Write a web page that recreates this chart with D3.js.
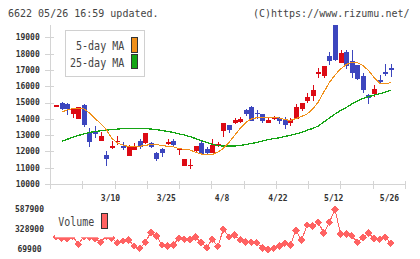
<!DOCTYPE html>
<html><head><meta charset="utf-8">
<script src="https://cdn.jsdelivr.net/npm/d3@7"></script>
<style>html,body{margin:0;padding:0;background:#fff;}svg{display:block;}</style>
</head><body>
<svg id="c" width="420" height="259"></svg>
<script>
// ---- data ----
const title = "6622 05/26 16:59 updated.";
const credit = "(C)https://www.rizumu.net/";
const priceTicks = [10000,11000,12000,13000,14000,15000,16000,17000,18000,19000];
const volTicks = [69900,328900,587900];
const dateLabels = ["3/10","3/25","4/8","4/22","5/12","5/26"];
const dateIdx = [10,20,30,40,50,60];
const open  = [14830,14970,14910,14290,13970,14850,13190,13250,12640,11780,12230,12580,12330,11740,12090,12640,12520,12520,11900,12150,12450,12640,12090,11100,11100,12030,12520,12150,11900,12390,13250,13620,13740,13800,14540,14720,14360,14290,13740,13990,14050,13930,13740,13990,14600,15090,15400,16750,16630,17850,19750,17420,18100,17550,17300,16630,15460,15520,16380,16870,17120];
const close = [14830,14600,14600,14600,14710,13620,12580,13070,12950,11530,12330,12640,12210,12330,12330,12270,13130,12270,11530,11900,12580,12390,12150,11530,11170,12330,11840,11900,12390,12450,13740,13310,13930,13990,14290,13870,14290,13870,13930,14110,13870,13620,13930,14720,14970,15340,15770,16870,17240,17550,17610,18040,17240,16810,16440,15770,15280,15830,16260,16750,16990];
const high  = [14830,15050,14970,14620,14730,14910,13440,13560,13190,12030,12640,12950,12580,12390,12520,12760,13130,12580,11960,12210,12760,12760,12210,11530,11530,12330,12700,12270,12760,12580,13740,13620,14050,14110,14600,14790,14540,14290,14050,14170,14110,14110,14050,14910,14970,15580,16070,17120,17240,18100,19750,18220,18220,18220,17300,16810,15520,16070,16690,17360,17360];
const low   = [14830,14540,14250,14070,13970,13500,12270,12840,12640,11120,12150,12390,12090,11740,12090,12150,12450,12210,11410,11660,12390,12330,11780,11100,10920,11900,11840,11840,11900,12270,12880,13130,13680,13740,14170,13870,13990,13740,13740,13930,13680,13370,13560,13990,14480,14970,15090,16500,16500,17300,17550,17420,17060,16500,16380,15580,14910,15340,16140,16630,16570];
const ma5 = [null,14399,14540,14632,14644,14614,14356,14018,13712,13344,12804,12515,12393,12301,12301,12319,12362,12436,12423,12350,12319,12288,12178,12123,12086,11945,11841,11791,11810,11963,12190,12546,12975,13405,13773,13988,14068,14092,14092,14092,14049,13957,13896,14018,14141,14295,14601,15031,15644,16227,16687,17055,17331,17473,17442,17270,16963,16534,16196,16135,16227];
const ma25 = [null,12626,12742,12859,12975,13080,13160,13221,13264,13307,13337,13368,13399,13417,13417,13417,13405,13374,13337,13282,13227,13160,13080,13006,12908,12791,12669,12546,12442,12356,12331,12331,12331,12362,12423,12485,12552,12638,12718,12785,12834,12914,12988,13068,13166,13301,13405,13558,13804,14049,14295,14509,14693,14908,15092,15245,15356,15448,15540,15632,15749];
const volume = [230000,213600,209800,240000,134600,235000,225000,213600,160500,240000,213600,155400,177400,190300,112600,82900,160500,290000,242100,125600,112600,125600,212400,199400,199400,225300,160500,90600,199400,108750,328900,229200,251200,190300,164400,160500,151500,90600,69900,82900,112600,147600,125600,316000,186400,384600,371600,419500,281000,419500,587900,268000,268000,246000,160500,225300,277100,212400,199400,225300,147600];

// ---- scales ----
const svg = d3.select("#c");
const x = d3.scaleLinear().domain([0, 60]).range([56, 390.8]);
const y = d3.scaleLinear().domain([10000, 19000]).range([184, 37.3]);
const yv = d3.scaleLinear().domain([69900, 587900]).range([249.3, 209.3]);
const grid = d3.scaleLinear().domain([0, 11]).range([50, 405]);

const UP = "#dc0a14", DOWN = "#3c46be";
const mono = "DejaVu Sans Mono";

// title
svg.append("text").attr("x", 8).attr("y", 16.5).attr("font-family", mono).attr("font-size", 10)
  .attr("fill", "#444").text(title);
svg.append("text").attr("x", 409.5).attr("y", 16.5).attr("text-anchor", "end").attr("font-family", mono).attr("font-size", 10)
  .attr("fill", "#444").text(credit);

// axes
const ax = svg.append("g").attr("shape-rendering", "crispEdges").attr("stroke", "#d4d4d4").attr("stroke-width", 1);
ax.append("line").attr("x1", 50.5).attr("x2", 50.5).attr("y1", 25).attr("y2", 189);
ax.append("line").attr("x1", 50).attr("x2", 405).attr("y1", 184.5).attr("y2", 184.5);
ax.selectAll(".yt").data(priceTicks).join("line")
  .attr("x1", 45).attr("x2", 54).attr("y1", d => Math.round(y(d)) + 0.5).attr("y2", d => Math.round(y(d)) + 0.5);
ax.selectAll(".xt").data(d3.range(12)).join("line")
  .attr("x1", d => Math.round(grid(d)) + 0.5).attr("x2", d => Math.round(grid(d)) + 0.5).attr("y1", 181).attr("y2", 189);

svg.selectAll(".yl").data(priceTicks).join("text")
  .attr("x", 27.7).attr("y", d => y(d) + 2.9).attr("text-anchor", "middle")
  .attr("font-family", mono).attr("font-size", 8).attr("font-weight", "bold").attr("fill", "#333")
  .text(d => d);
svg.selectAll(".xl").data(dateLabels).join("text")
  .attr("x", (d, i) => x(dateIdx[i]) - 1.3).attr("y", 200.5).attr("text-anchor", "middle")
  .attr("font-family", mono).attr("font-size", 8).attr("font-weight", "bold").attr("fill", "#333")
  .text(d => d);
svg.selectAll(".vl").data(volTicks).join("text")
  .attr("x", 29.5).attr("y", d => yv(d) + 2.9).attr("text-anchor", "middle")
  .attr("font-family", mono).attr("font-size", 8).attr("font-weight", "bold").attr("fill", "#333")
  .text(d => d);

// candles
const cg = svg.append("g").attr("shape-rendering", "crispEdges");
const idx = d3.range(open.length);
cg.selectAll(".w").data(idx).join("line")
  .attr("x1", i => Math.round(x(i)) + 0.5).attr("x2", i => Math.round(x(i)) + 0.5)
  .attr("y1", i => y(high[i])).attr("y2", i => y(low[i]))
  .attr("stroke", i => close[i] >= open[i] ? UP : DOWN);
cg.selectAll(".b").data(idx).join("rect")
  .attr("x", i => Math.round(x(i)) - 2).attr("width", 5)
  .attr("y", i => y(Math.max(open[i], close[i])))
  .attr("height", i => Math.max(1.5, y(Math.min(open[i], close[i])) - y(Math.max(open[i], close[i]))))
  .attr("fill", i => close[i] >= open[i] ? UP : DOWN);

// moving averages
const lineP = d3.line().defined(d => d != null).x((d, i) => x(i)).y(d => y(d));
svg.append("path").datum(ma25).attr("d", lineP).attr("fill", "none").attr("stroke", "#14a514")
  .attr("stroke-width", 1.3).attr("shape-rendering", "crispEdges");
svg.append("path").datum(ma5).attr("d", lineP).attr("fill", "none").attr("stroke", "#f0901a")
  .attr("stroke-width", 1.1).attr("shape-rendering", "crispEdges");

// price legend
const lg = svg.append("g");
lg.append("rect").attr("x", 65.5).attr("y", 30.5).attr("width", 79).attr("height", 46)
  .attr("fill", "#fff").attr("stroke", "#d0d0d0").attr("shape-rendering", "crispEdges");
const legItems = [["5-day MA", "#f0901a"], ["25-day MA", "#14a514"]];
legItems.forEach(([t, c], k) => {
  lg.append("text").attr("x", 124.3 - t.length * 6.04).attr("y", 50 + k * 16.5)
    .attr("font-family", mono).attr("font-size", 12).attr("fill", "#444")
    .attr("textLength", t.length * 6.04).attr("lengthAdjust", "spacingAndGlyphs").text(t);
  lg.append("rect").attr("x", 131.5).attr("y", 37.5 + k * 16.7).attr("width", 5.5).attr("height", 14.5)
    .attr("fill", c).attr("stroke", "#333").attr("shape-rendering", "crispEdges");
});

// volume
const lineV = d3.line().x((d, i) => x(i)).y(d => yv(d));
svg.append("path").datum(volume).attr("d", lineV).attr("fill", "none").attr("stroke", "#ff6262")
  .attr("stroke-width", 1).attr("shape-rendering", "crispEdges");
svg.selectAll(".vm").data(volume).join("path")
  .attr("d", d3.symbol(d3.symbolSquare, 30))
  .attr("transform", (d, i) => `translate(${x(i)},${yv(d)}) rotate(45)`)
  .attr("fill", "#ff6262").attr("shape-rendering", "crispEdges");

// volume legend (white box covers line)
svg.append("rect").attr("x", 55).attr("y", 203).attr("width", 58).attr("height", 34.3).attr("fill", "#fff");
svg.append("text").attr("x", 58.3).attr("y", 226).attr("font-family", mono).attr("font-size", 12)
  .attr("fill", "#444").attr("textLength", 36).attr("lengthAdjust", "spacingAndGlyphs").text("Volume");
svg.append("rect").attr("x", 101.5).attr("y", 213.5).attr("width", 5.5).attr("height", 14.5)
  .attr("fill", "#ff6262").attr("stroke", "#333").attr("shape-rendering", "crispEdges");
</script>
</body></html>
